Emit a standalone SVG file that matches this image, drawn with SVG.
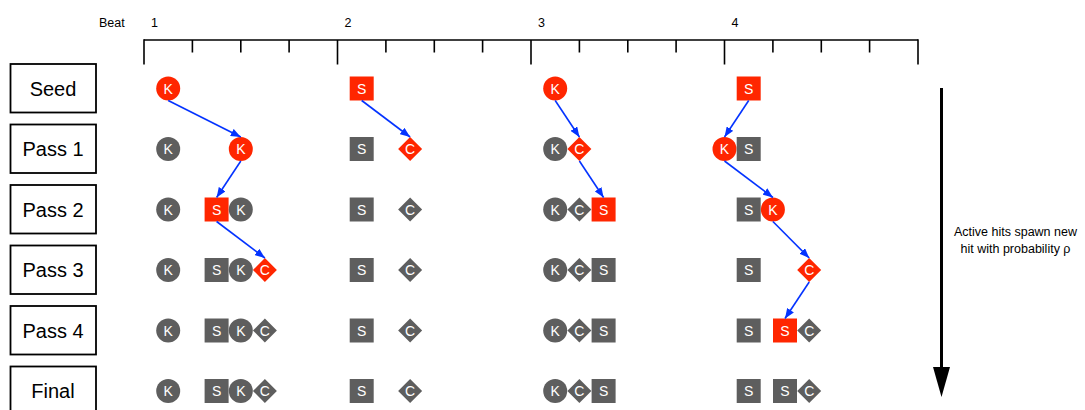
<svg xmlns="http://www.w3.org/2000/svg" width="1085" height="410" viewBox="0 0 1085 410">
  <style>
    text { font-family: "Liberation Sans", Arial, sans-serif; }
    .row rect { fill: #ffffff; stroke: #000000; stroke-width: 1.8; }
    .row text { font-size: 20px; text-anchor: middle; fill: #000000; }
    .hot { fill: #ff2600; }
    .cold { fill: #5e5e5e; }
    .hit text { font-size: 14px; fill: #ffffff; text-anchor: middle; }
    .ruler line { stroke: #000000; stroke-width: 1.6; }
    .beat { font-size: 12.5px; fill: #000000; }
    .spawn { stroke: #0433ff; stroke-width: 1.6; fill: none; marker-end: url(#blueHead); }
    .note { font-size: 12.5px; fill: #000000; text-anchor: middle; }
  </style>
  <defs>
    <marker id="blueHead" markerUnits="userSpaceOnUse" markerWidth="10" markerHeight="8" refX="10" refY="4" orient="auto">
      <path d="M0,0 L10,4 L0,8 z" fill="#0433ff"/>
    </marker>
  </defs>

  <!-- beat ruler -->
  <g class="ruler">
    <text class="beat" x="99" y="27">Beat</text>
    <text class="beat" x="151" y="27">1</text>
    <text class="beat" x="344.5" y="27">2</text>
    <text class="beat" x="538" y="27">3</text>
    <text class="beat" x="731.5" y="27">4</text>
    <line x1="144" y1="40" x2="918" y2="40"/>
    <line x1="144" y1="39.2" x2="144" y2="64.5"/>
    <line x1="337.5" y1="40" x2="337.5" y2="64.5"/>
    <line x1="531" y1="40" x2="531" y2="64.5"/>
    <line x1="724.5" y1="40" x2="724.5" y2="64.5"/>
    <line x1="918" y1="39.2" x2="918" y2="64.5"/>
    <line x1="192.4" y1="40" x2="192.4" y2="52.5"/>
    <line x1="240.8" y1="40" x2="240.8" y2="52.5"/>
    <line x1="289.1" y1="40" x2="289.1" y2="52.5"/>
    <line x1="385.9" y1="40" x2="385.9" y2="52.5"/>
    <line x1="434.3" y1="40" x2="434.3" y2="52.5"/>
    <line x1="482.6" y1="40" x2="482.6" y2="52.5"/>
    <line x1="579.4" y1="40" x2="579.4" y2="52.5"/>
    <line x1="627.8" y1="40" x2="627.8" y2="52.5"/>
    <line x1="676.1" y1="40" x2="676.1" y2="52.5"/>
    <line x1="772.9" y1="40" x2="772.9" y2="52.5"/>
    <line x1="821.3" y1="40" x2="821.3" y2="52.5"/>
    <line x1="869.6" y1="40" x2="869.6" y2="52.5"/>
  </g>

  <!-- pass labels -->
  <g id="row-seed" class="row"><rect x="10.5" y="64" width="85.5" height="48.5"/><text x="53" y="95.5">Seed</text></g>
  <g id="row-pass1" class="row"><rect x="10.5" y="124.5" width="85.5" height="48.5"/><text x="53" y="156">Pass 1</text></g>
  <g id="row-pass2" class="row"><rect x="10.5" y="185" width="85.5" height="48.5"/><text x="53" y="216.5">Pass 2</text></g>
  <g id="row-pass3" class="row"><rect x="10.5" y="245.5" width="85.5" height="48.5"/><text x="53" y="277">Pass 3</text></g>
  <g id="row-pass4" class="row"><rect x="10.5" y="306" width="85.5" height="48.5"/><text x="53" y="337.5">Pass 4</text></g>
  <g id="row-final" class="row"><rect x="10.5" y="366.5" width="85.5" height="48.5"/><text x="53" y="398">Final</text></g>

  <!-- beat 1 hits -->
  <g id="b1-seed-k" class="hit"><circle class="hot" cx="168.2" cy="88.5" r="12"/><text x="168.2" y="93.5">K</text></g>
  <g id="b1-p1-k0" class="hit"><circle class="cold" cx="168.2" cy="149" r="12"/><text x="168.2" y="154">K</text></g>
  <g id="b1-p1-k1" class="hit"><circle class="hot" cx="240.8" cy="149" r="12"/><text x="240.8" y="154">K</text></g>
  <g id="b1-p2-k0" class="hit"><circle class="cold" cx="168.2" cy="209.5" r="12"/><text x="168.2" y="214.5">K</text></g>
  <g id="b1-p2-s" class="hit"><rect class="hot" x="204.6" y="197.5" width="24" height="24"/><text x="216.6" y="214.5">S</text></g>
  <g id="b1-p2-k1" class="hit"><circle class="cold" cx="240.8" cy="209.5" r="12"/><text x="240.8" y="214.5">K</text></g>
  <g id="b1-p3-k0" class="hit"><circle class="cold" cx="168.2" cy="270" r="12"/><text x="168.2" y="275">K</text></g>
  <g id="b1-p3-s" class="hit"><rect class="cold" x="204.6" y="258" width="24" height="24"/><text x="216.6" y="275">S</text></g>
  <g id="b1-p3-k1" class="hit"><circle class="cold" cx="240.8" cy="270" r="12"/><text x="240.8" y="275">K</text></g>
  <g id="b1-p3-c" class="hit"><polygon class="hot" points="264.9,258 276.9,270 264.9,282 252.9,270"/><text x="264.9" y="275">C</text></g>
  <g id="b1-p4-k0" class="hit"><circle class="cold" cx="168.2" cy="330.5" r="12"/><text x="168.2" y="335.5">K</text></g>
  <g id="b1-p4-s" class="hit"><rect class="cold" x="204.6" y="318.5" width="24" height="24"/><text x="216.6" y="335.5">S</text></g>
  <g id="b1-p4-k1" class="hit"><circle class="cold" cx="240.8" cy="330.5" r="12"/><text x="240.8" y="335.5">K</text></g>
  <g id="b1-p4-c" class="hit"><polygon class="cold" points="264.9,318.5 276.9,330.5 264.9,342.5 252.9,330.5"/><text x="264.9" y="335.5">C</text></g>
  <g id="b1-fin-k0" class="hit"><circle class="cold" cx="168.2" cy="391" r="12"/><text x="168.2" y="396">K</text></g>
  <g id="b1-fin-s" class="hit"><rect class="cold" x="204.6" y="379" width="24" height="24"/><text x="216.6" y="396">S</text></g>
  <g id="b1-fin-k1" class="hit"><circle class="cold" cx="240.8" cy="391" r="12"/><text x="240.8" y="396">K</text></g>
  <g id="b1-fin-c" class="hit"><polygon class="cold" points="264.9,379 276.9,391 264.9,403 252.9,391"/><text x="264.9" y="396">C</text></g>

  <!-- beat 2 hits -->
  <g id="b2-seed-s" class="hit"><rect class="hot" x="349.7" y="76.5" width="24" height="24"/><text x="361.7" y="93.5">S</text></g>
  <g id="b2-p1-s" class="hit"><rect class="cold" x="349.7" y="137" width="24" height="24"/><text x="361.7" y="154">S</text></g>
  <g id="b2-p1-c" class="hit"><polygon class="hot" points="410.1,137 422.1,149 410.1,161 398.1,149"/><text x="410.1" y="154">C</text></g>
  <g id="b2-p2-s" class="hit"><rect class="cold" x="349.7" y="197.5" width="24" height="24"/><text x="361.7" y="214.5">S</text></g>
  <g id="b2-p2-c" class="hit"><polygon class="cold" points="410.1,197.5 422.1,209.5 410.1,221.5 398.1,209.5"/><text x="410.1" y="214.5">C</text></g>
  <g id="b2-p3-s" class="hit"><rect class="cold" x="349.7" y="258" width="24" height="24"/><text x="361.7" y="275">S</text></g>
  <g id="b2-p3-c" class="hit"><polygon class="cold" points="410.1,258 422.1,270 410.1,282 398.1,270"/><text x="410.1" y="275">C</text></g>
  <g id="b2-p4-s" class="hit"><rect class="cold" x="349.7" y="318.5" width="24" height="24"/><text x="361.7" y="335.5">S</text></g>
  <g id="b2-p4-c" class="hit"><polygon class="cold" points="410.1,318.5 422.1,330.5 410.1,342.5 398.1,330.5"/><text x="410.1" y="335.5">C</text></g>
  <g id="b2-fin-s" class="hit"><rect class="cold" x="349.7" y="379" width="24" height="24"/><text x="361.7" y="396">S</text></g>
  <g id="b2-fin-c" class="hit"><polygon class="cold" points="410.1,379 422.1,391 410.1,403 398.1,391"/><text x="410.1" y="396">C</text></g>

  <!-- beat 3 hits -->
  <g id="b3-seed-k" class="hit"><circle class="hot" cx="555.2" cy="88.5" r="12"/><text x="555.2" y="93.5">K</text></g>
  <g id="b3-p1-k" class="hit"><circle class="cold" cx="555.2" cy="149" r="12"/><text x="555.2" y="154">K</text></g>
  <g id="b3-p1-c" class="hit"><polygon class="hot" points="579.4,137 591.4,149 579.4,161 567.4,149"/><text x="579.4" y="154">C</text></g>
  <g id="b3-p2-k" class="hit"><circle class="cold" cx="555.2" cy="209.5" r="12"/><text x="555.2" y="214.5">K</text></g>
  <g id="b3-p2-c" class="hit"><polygon class="cold" points="579.4,197.5 591.4,209.5 579.4,221.5 567.4,209.5"/><text x="579.4" y="214.5">C</text></g>
  <g id="b3-p2-s" class="hit"><rect class="hot" x="591.6" y="197.5" width="24" height="24"/><text x="603.6" y="214.5">S</text></g>
  <g id="b3-p3-k" class="hit"><circle class="cold" cx="555.2" cy="270" r="12"/><text x="555.2" y="275">K</text></g>
  <g id="b3-p3-c" class="hit"><polygon class="cold" points="579.4,258 591.4,270 579.4,282 567.4,270"/><text x="579.4" y="275">C</text></g>
  <g id="b3-p3-s" class="hit"><rect class="cold" x="591.6" y="258" width="24" height="24"/><text x="603.6" y="275">S</text></g>
  <g id="b3-p4-k" class="hit"><circle class="cold" cx="555.2" cy="330.5" r="12"/><text x="555.2" y="335.5">K</text></g>
  <g id="b3-p4-c" class="hit"><polygon class="cold" points="579.4,318.5 591.4,330.5 579.4,342.5 567.4,330.5"/><text x="579.4" y="335.5">C</text></g>
  <g id="b3-p4-s" class="hit"><rect class="cold" x="591.6" y="318.5" width="24" height="24"/><text x="603.6" y="335.5">S</text></g>
  <g id="b3-fin-k" class="hit"><circle class="cold" cx="555.2" cy="391" r="12"/><text x="555.2" y="396">K</text></g>
  <g id="b3-fin-c" class="hit"><polygon class="cold" points="579.4,379 591.4,391 579.4,403 567.4,391"/><text x="579.4" y="396">C</text></g>
  <g id="b3-fin-s" class="hit"><rect class="cold" x="591.6" y="379" width="24" height="24"/><text x="603.6" y="396">S</text></g>

  <!-- beat 4 hits -->
  <g id="b4-seed-s" class="hit"><rect class="hot" x="736.7" y="76.5" width="24" height="24"/><text x="748.7" y="93.5">S</text></g>
  <g id="b4-p1-k" class="hit"><circle class="hot" cx="724.5" cy="149" r="12"/><text x="724.5" y="154">K</text></g>
  <g id="b4-p1-s" class="hit"><rect class="cold" x="736.7" y="137" width="24" height="24"/><text x="748.7" y="154">S</text></g>
  <g id="b4-p2-s" class="hit"><rect class="cold" x="736.7" y="197.5" width="24" height="24"/><text x="748.7" y="214.5">S</text></g>
  <g id="b4-p2-k" class="hit"><circle class="hot" cx="772.9" cy="209.5" r="12"/><text x="772.9" y="214.5">K</text></g>
  <g id="b4-p3-s" class="hit"><rect class="cold" x="736.7" y="258" width="24" height="24"/><text x="748.7" y="275">S</text></g>
  <g id="b4-p3-c" class="hit"><polygon class="hot" points="809.2,258 821.2,270 809.2,282 797.2,270"/><text x="809.2" y="275">C</text></g>
  <g id="b4-p4-s0" class="hit"><rect class="cold" x="736.7" y="318.5" width="24" height="24"/><text x="748.7" y="335.5">S</text></g>
  <g id="b4-p4-s1" class="hit"><rect class="hot" x="773" y="318.5" width="24" height="24"/><text x="785" y="335.5">S</text></g>
  <g id="b4-p4-c" class="hit"><polygon class="cold" points="809.2,318.5 821.2,330.5 809.2,342.5 797.2,330.5"/><text x="809.2" y="335.5">C</text></g>
  <g id="b4-fin-s0" class="hit"><rect class="cold" x="736.7" y="379" width="24" height="24"/><text x="748.7" y="396">S</text></g>
  <g id="b4-fin-s1" class="hit"><rect class="cold" x="773" y="379" width="24" height="24"/><text x="785" y="396">S</text></g>
  <g id="b4-fin-c" class="hit"><polygon class="cold" points="809.2,379 821.2,391 809.2,403 797.2,391"/><text x="809.2" y="396">C</text></g>

  <!-- spawn connectors -->
  <g id="connectors">
    <line class="spawn" x1="168.2" y1="100.5" x2="240.8" y2="137"/>
    <line class="spawn" x1="240.8" y1="161" x2="216.6" y2="197.5"/>
    <line class="spawn" x1="216.6" y1="221.5" x2="264.9" y2="258"/>
    <line class="spawn" x1="361.7" y1="100.5" x2="410.1" y2="137"/>
    <line class="spawn" x1="555.2" y1="100.5" x2="579.4" y2="137"/>
    <line class="spawn" x1="579.4" y1="161" x2="603.6" y2="197.5"/>
    <line class="spawn" x1="748.7" y1="100.5" x2="724.5" y2="137"/>
    <line class="spawn" x1="724.5" y1="161" x2="772.9" y2="197.5"/>
    <line class="spawn" x1="772.9" y1="221.5" x2="809.2" y2="258"/>
    <line class="spawn" x1="809.2" y1="282" x2="785" y2="318.5"/>
  </g>

  <!-- pass direction -->
  <g id="pass-direction">
    <line x1="941.5" y1="88" x2="941.5" y2="369" stroke="#000000" stroke-width="3"/>
    <polygon points="933,367 950,367 941.5,397" fill="#000000"/>
    <text class="note" x="1015.5" y="236">Active hits spawn new</text>
    <text class="note" x="1015.5" y="252.5">hit with probability ρ</text>
  </g>
</svg>
